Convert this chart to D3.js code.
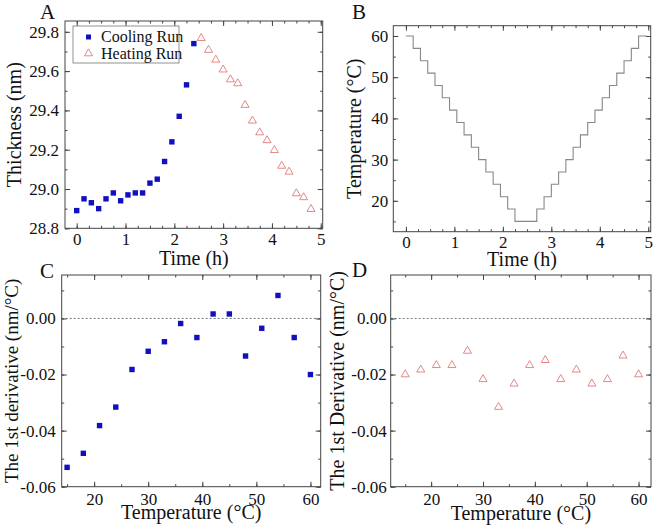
<!DOCTYPE html>
<html>
<head>
<meta charset="utf-8">
<script src="https://cdn.jsdelivr.net/npm/d3@7"></script>
<style>
  body { margin: 0; background: #fff; }
  .tick line { stroke: #444; }
</style>
</head>
<body>
<div id="chart"></div>
<script>
// ---- panel A: thickness vs time ----
var coolTime = [0, 0.15, 0.3, 0.45, 0.6, 0.75, 0.9, 1.05, 1.2, 1.35, 1.5, 1.65, 1.8, 1.95, 2.1, 2.25, 2.4];
var coolThick = [28.89, 28.95, 28.93, 28.90, 28.95, 28.98, 28.94, 28.97, 28.98, 28.98, 29.03, 29.05, 29.14, 29.24, 29.37, 29.53, 29.74];
var heatTime = [2.55, 2.7, 2.85, 3.0, 3.15, 3.3, 3.45, 3.6, 3.75, 3.9, 4.05, 4.2, 4.35, 4.5, 4.65, 4.8];
var heatThick = [29.77, 29.71, 29.66, 29.61, 29.56, 29.54, 29.43, 29.35, 29.29, 29.25, 29.20, 29.12, 29.09, 28.98, 28.96, 28.90];

// ---- panel B: temperature program (step) ----
var stepTime = [0, 0.15, 0.3, 0.45, 0.6, 0.75, 0.9, 1.05, 1.2, 1.35, 1.5, 1.65, 1.8, 1.95, 2.1, 2.25,
                2.7, 2.85, 3.0, 3.15, 3.3, 3.45, 3.6, 3.75, 3.9, 4.05, 4.2, 4.35, 4.5, 4.65, 4.8, 4.97];
var stepTemp = [60, 57, 54, 51, 48, 45, 42, 39, 36, 33, 30, 27, 24, 21, 18, 15,
                18, 21, 24, 27, 30, 33, 36, 39, 42, 45, 48, 51, 54, 57, 60, 60];

// ---- panels C, D: first derivative vs temperature ----
var derivTemp = [15, 18, 21, 24, 27, 30, 33, 36, 39, 42, 45, 48, 51, 54, 57, 60];
var coolDeriv = [-0.0531, -0.0481, -0.0382, -0.0316, -0.0182, -0.0117, -0.0083, -0.0018, -0.0068, 0.0016, 0.0016, -0.0134, -0.0035, 0.0082, -0.0068, -0.0200];
var heatDeriv = [-0.0198, -0.0181, -0.0165, -0.0165, -0.0114, -0.0215, -0.0314, -0.0231, -0.0165, -0.0147, -0.0215, -0.0181, -0.0231, -0.0215, -0.0131, -0.0198];

// ---- ticks ----
var timeTicks = [0, 1, 2, 3, 4, 5];
var thickTicks = [28.8, 29.0, 29.2, 29.4, 29.6, 29.8];
var tempTicksB = [20, 30, 40, 50, 60];
var tempTicksX = [20, 30, 40, 50, 60];
var derivTicks = [-0.06, -0.04, -0.02, 0.00];

var FONT = "Liberation Serif";
var blue = "#1010c0";
var pink = "#e07a7a";

var svg = d3.select("#chart").append("svg")
    .attr("width", 653)
    .attr("height", 529)
    .attr("font-family", FONT);

function range(a, b, step) {
    var out = [];
    for (var v = a; v <= b + 1e-9; v += step) out.push(+v.toFixed(6));
    return out;
}

function makePanel(opt) {
    var x = d3.scaleLinear().domain(opt.xDomain).range([opt.left, opt.right]);
    var y = d3.scaleLinear().domain(opt.yDomain).range([opt.bottom, opt.top]);
    var g = svg.append("g");

    var xMinor = range(opt.xMinor[0], opt.xMinor[1], opt.xMinor[2]);
    var yMinor = range(opt.yMinor[0], opt.yMinor[1], opt.yMinor[2]);

    // minor ticks, all four sides
    g.append("g").attr("transform", "translate(0," + opt.bottom + ")")
        .call(d3.axisBottom(x).tickValues(xMinor).tickSize(-2.5).tickFormat(""));
    g.append("g").attr("transform", "translate(0," + opt.top + ")")
        .call(d3.axisTop(x).tickValues(xMinor).tickSize(-2.5).tickFormat(""));
    g.append("g").attr("transform", "translate(" + opt.left + ",0)")
        .call(d3.axisLeft(y).tickValues(yMinor).tickSize(-2.5).tickFormat(""));
    g.append("g").attr("transform", "translate(" + opt.right + ",0)")
        .call(d3.axisRight(y).tickValues(yMinor).tickSize(-2.5).tickFormat(""));

    // major ticks
    g.append("g").attr("transform", "translate(0," + opt.bottom + ")")
        .call(d3.axisBottom(x).tickValues(opt.xTicks).tickSize(-5).tickPadding(opt.xPad).tickFormat(opt.xFormat));
    g.append("g").attr("transform", "translate(0," + opt.top + ")")
        .call(d3.axisTop(x).tickValues(opt.xTicks).tickSize(-5).tickFormat(""));
    g.append("g").attr("transform", "translate(" + opt.left + ",0)")
        .call(d3.axisLeft(y).tickValues(opt.yTicks).tickSize(-5).tickPadding(opt.yPad).tickFormat(opt.yFormat));
    g.append("g").attr("transform", "translate(" + opt.right + ",0)")
        .call(d3.axisRight(y).tickValues(opt.yTicks).tickSize(-5).tickFormat(""));

    g.selectAll(".domain").remove();
    g.selectAll("g").attr("font-family", FONT).attr("font-size", 17);
    g.selectAll(".tick text").attr("fill", "#111");

    g.append("rect")
        .attr("x", opt.left).attr("y", opt.top)
        .attr("width", opt.right - opt.left).attr("height", opt.bottom - opt.top)
        .attr("fill", "none").attr("stroke", "#444").attr("stroke-width", 1);

    g.append("text")
        .attr("x", (opt.left + opt.right) / 2).attr("y", opt.bottom + opt.xTitleOff)
        .attr("text-anchor", "middle").attr("font-size", 20).attr("fill", "#111")
        .text(opt.xTitle);

    // y title: x position is the text baseline
    g.append("text")
        .attr("transform", "translate(" + opt.yTitleX + "," + ((opt.top + opt.bottom) / 2) + ") rotate(-90)")
        .attr("text-anchor", "middle")
        .attr("font-size", opt.yTitleSize || 20).attr("fill", "#111")
        .text(opt.yTitle);

    g.append("text")
        .attr("x", opt.letterX).attr("y", opt.letterY)
        .attr("font-size", 21).attr("fill", "#111")
        .text(opt.letter);

    return { g: g, x: x, y: y };
}

var fmt1 = function(d) { return d.toFixed(1); };
var fmt0 = function(d) { return String(d); };
var fmt2 = function(d) { return d.toFixed(2); };

function squares(p, xs, ys) {
    p.g.append("g").selectAll("rect")
        .data(xs.map(function(v, i) { return [v, ys[i]]; }))
        .enter().append("rect")
        .attr("x", function(d) { return p.x(d[0]) - 2.7; })
        .attr("y", function(d) { return p.y(d[1]) - 2.7; })
        .attr("width", 5.4).attr("height", 5.4)
        .attr("fill", blue);
}

var tri = d3.symbol().type(d3.symbolTriangle).size(28);
function triangles(p, xs, ys) {
    p.g.append("g").selectAll("path")
        .data(xs.map(function(v, i) { return [v, ys[i]]; }))
        .enter().append("path")
        .attr("d", tri)
        .attr("transform", function(d) { return "translate(" + p.x(d[0]) + "," + (p.y(d[1]) + 0.5) + ")"; })
        .attr("fill", "none").attr("stroke", pink).attr("stroke-width", 0.9);
}

function zeroLine(p) {
    p.g.append("line")
        .attr("x1", p.x.range()[0]).attr("x2", p.x.range()[1])
        .attr("y1", p.y(0)).attr("y2", p.y(0))
        .attr("stroke", "#555").attr("stroke-width", 0.8).attr("stroke-dasharray", "2,2");
}

// A
var pA = makePanel({
    left: 65, right: 322.7, top: 21, bottom: 228.3,
    xDomain: [-0.24, 5.04], yDomain: [28.8, 29.855],
    xTicks: timeTicks, yTicks: thickTicks, xFormat: fmt0, yFormat: fmt1,
    xMinor: [0, 5, 0.25], yMinor: [28.8, 29.8, 0.1], xPad: 5, yPad: 6,
    xTitle: "Time (h)", xTitleOff: 37, yTitle: "Thickness (nm)", yTitleX: 21,
    letter: "A", letterX: 40, letterY: 18.5
});
squares(pA, coolTime, coolThick);
triangles(pA, heatTime, heatThick);

var leg = pA.g.append("g");
leg.append("rect").attr("x", 73).attr("y", 26).attr("width", 106).attr("height", 37)
    .attr("fill", "#fff").attr("stroke", "#777").attr("stroke-width", 0.8);
leg.append("rect").attr("x", 86).attr("y", 34.5).attr("width", 5).attr("height", 5).attr("fill", blue);
leg.append("path").attr("d", tri).attr("transform", "translate(88.5,53.5)")
    .attr("fill", "none").attr("stroke", pink).attr("stroke-width", 0.9);
leg.append("text").attr("x", 101).attr("y", 42).attr("font-size", 16).attr("fill", "#111").text("Cooling Run");
leg.append("text").attr("x", 101).attr("y", 59).attr("font-size", 16).attr("fill", "#111").text("Heating Run");

// B
var pB = makePanel({
    left: 393.3, right: 650.7, top: 25.7, bottom: 231.7,
    xDomain: [-0.26, 5.05], yDomain: [12.5, 62.5],
    xTicks: timeTicks, yTicks: tempTicksB, xFormat: fmt0, yFormat: fmt0,
    xMinor: [0, 5, 0.25], yMinor: [15, 60, 5], xPad: 4.5, yPad: 5,
    xTitle: "Time (h)", xTitleOff: 34, yTitle: "Temperature (\u00B0C)", yTitleX: 361,
    letter: "B", letterX: 352, letterY: 18.5
});
pB.g.append("path")
    .datum(stepTime.map(function(t, i) { return [t, stepTemp[i]]; }))
    .attr("d", d3.line().curve(d3.curveStepAfter)
        .x(function(d) { return pB.x(d[0]); })
        .y(function(d) { return pB.y(d[1]); }))
    .attr("fill", "none").attr("stroke", "#888").attr("stroke-width", 1.1);

// C
var pC = makePanel({
    left: 61.7, right: 320.7, top: 275, bottom: 486.7,
    xDomain: [14, 61.9], yDomain: [-0.06, 0.0155],
    xTicks: tempTicksX, yTicks: derivTicks, xFormat: fmt0, yFormat: fmt2,
    xMinor: [15, 60, 5], yMinor: [-0.06, 0.01, 0.01], xPad: 6, yPad: 6,
    xTitle: "Temperature (\u00B0C)", xTitleOff: 32.5, yTitle: "The 1st derivative (nm/\u00B0C)",
    yTitleX: 17.5, yTitleSize: 19,
    letter: "C", letterX: 40, letterY: 278
});
zeroLine(pC);
squares(pC, derivTemp, coolDeriv);

// D
var pD = makePanel({
    left: 390.7, right: 651, top: 275, bottom: 486.7,
    xDomain: [12.2, 62.4], yDomain: [-0.06, 0.0155],
    xTicks: tempTicksX, yTicks: derivTicks, xFormat: fmt0, yFormat: fmt2,
    xMinor: [15, 60, 5], yMinor: [-0.06, 0.01, 0.01], xPad: 6, yPad: 4,
    xTitle: "Temperature (\u00B0C)", xTitleOff: 33, yTitle: "The 1st Derivative (nm/\u00B0C)", yTitleX: 344,
    letter: "D", letterX: 352, letterY: 277
});
zeroLine(pD);
triangles(pD, derivTemp, heatDeriv);
</script>
</body>
</html>
